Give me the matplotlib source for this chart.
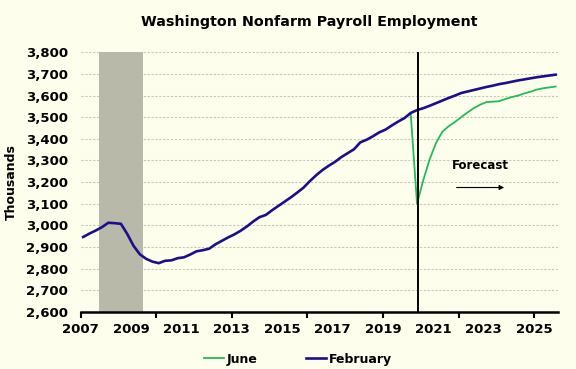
import matplotlib
matplotlib.use("Agg")
import matplotlib.pyplot as plt
import numpy as np

# ---- data (thousands), quarterly ----
feb_start_year = 2007.1
february = [2946, 2962, 2976, 2992, 3012, 3010, 3007, 2960,
            2905, 2866, 2845, 2832, 2825, 2836, 2838, 2848,
            2852, 2865, 2880, 2885, 2892, 2912, 2928, 2944,
            2958, 2975, 2995, 3018, 3038, 3048, 3070, 3090,
            3110, 3130, 3152, 3175, 3205, 3232, 3256, 3276,
            3294, 3316, 3334, 3352, 3384, 3396, 3412, 3430,
            3443, 3462, 3480, 3496, 3520, 3533, 3542, 3553,
            3565, 3577, 3589, 3600, 3612, 3619, 3626, 3633,
            3640, 3646, 3653, 3658, 3664, 3670, 3675, 3680,
            3685, 3689, 3693, 3697]
june_start_year = 2020.1
june = [3515, 3100, 3210, 3305, 3380, 3432, 3458, 3478,
        3500, 3522, 3542, 3558, 3570, 3572, 3574, 3584,
        3593, 3600, 3610, 3618, 3628, 3634, 3638, 3642]
recession = (2007.74, 2009.46)
forecast_line = 2020.37
y_ticks = list(range(2600, 3801, 100))
x_labels = list(range(2007, 2026, 2))
x_tickmarks = list(range(2007, 2026, 3))

x_feb = feb_start_year + 0.25 * np.arange(len(february))
x_jun = june_start_year + 0.25 * np.arange(len(june))

bg = '#fefeec'
plt.rcParams['font.family'] = ['DejaVu Sans']
plt.rcParams['font.weight'] = 'bold'

fig = plt.figure(figsize=(5.76, 3.69), dpi=100, facecolor=bg)
ax = fig.add_axes([0.140, 0.155, 0.829, 0.703], facecolor=bg)

ax.axvspan(recession[0], recession[1], color='#b9b9a9', zorder=1, lw=0)
for y in y_ticks[1:]:
    ax.axhline(y, color='#c8c8bc', lw=0.8, ls=(0, (2, 1.5)), zorder=0.5)

ax.plot(x_jun, june, color='#22bb5a', lw=1.3, zorder=3, label='June')
ax.plot(x_feb, february, color='#1c0f8c', lw=1.9, zorder=4, label='February')
ax.axvline(forecast_line, color='black', lw=1.4, zorder=5)

ax.set_xlim(2007.0, 2025.95)
ax.set_ylim(2600, 3800)
ax.set_yticks(y_ticks)
ax.set_yticklabels([f"{v:,}" for v in y_ticks], fontsize=9.5, fontweight='bold')
ax.tick_params(axis='y', length=0, pad=9)

ax.xaxis.remove_overlapping_locs = False
ax.set_xticks(x_labels)
ax.set_xticklabels([str(v) for v in x_labels], fontsize=9.5, fontweight='bold')
ax.tick_params(axis='x', which='major', length=0, pad=8)
ax.set_xticks(x_tickmarks, minor=True)
ax.tick_params(axis='x', which='minor', length=4, width=1.5, direction='out')

for s in ['left', 'right', 'top']:
    ax.spines[s].set_visible(False)
ax.spines['bottom'].set_linewidth(1.8)
ax.spines['bottom'].set_zorder(6)

ax.set_ylabel('Thousands', fontsize=9, fontweight='bold', labelpad=6)
fig.text(0.537, 0.94, 'Washington Nonfarm Payroll Employment', ha='center', va='center',
         fontsize=10.3, fontweight='bold')

ax.text(2022.86, 3278, 'Forecast', ha='center', va='center', fontsize=8.5, fontweight='bold')
ax.annotate('', xy=(2023.92, 3175), xytext=(2021.81, 3175),
            arrowprops=dict(arrowstyle='-|>', color='black', lw=0.8, mutation_scale=7))

fig.legend(loc='center', bbox_to_anchor=(0.517, 0.027), ncol=2, frameon=False,
           handlelength=1.6, handletextpad=0.2, columnspacing=3.9,
           prop={'size': 9, 'weight': 'bold'})

fig.savefig('out.png', dpi=100, facecolor=bg)
